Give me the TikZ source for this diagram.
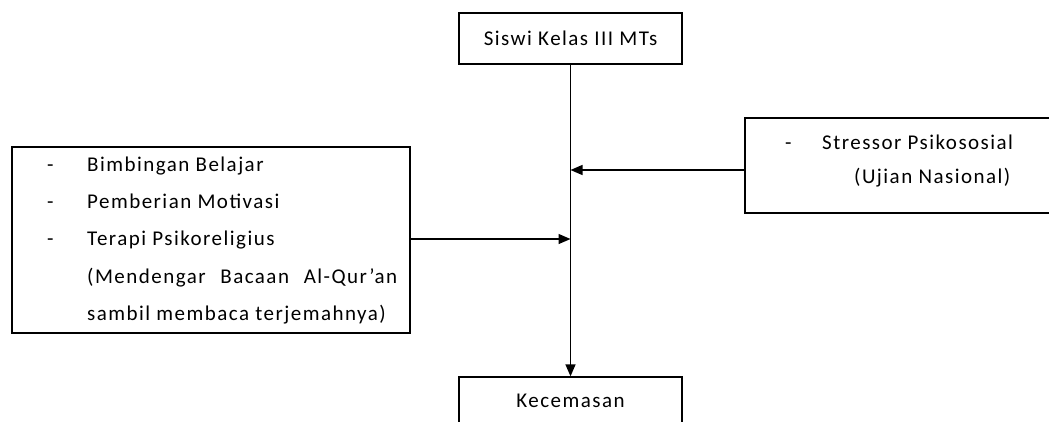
\documentclass[tikz,border=0pt]{standalone}
\usepackage{fontspec}
\setmainfont{Carlito}[LetterSpace=7]
\usetikzlibrary{arrows.meta}
\begin{document}
\begin{tikzpicture}[x=1pt,y=-1pt,
  box/.style={draw=black, line width=1.3pt, inner sep=0pt},
  txt/.style={anchor=base west, inner sep=0pt, font=\fontsize{21}{25}\selectfont},
  ctxt/.style={anchor=base, inner sep=0pt, font=\fontsize{21}{25}\selectfont},
  arr/.style={draw=black, line width=1.3pt, -{Triangle[length=12pt,width=10pt]}}]
\useasboundingbox (0,0) rectangle (1049,421);
% boxes
\node[box, minimum width=223pt, minimum height=51pt] (top) at (570.5,38.5) {};
\node[ctxt] (toptxt) at (570.5,45) {Siswi Kelas III MTs};
\node[box, minimum width=223pt, minimum height=51pt] (bot) at (570.5,402.5) {};
\node[ctxt] (bottxt) at (570.5,407) {Kecemasan};
\node[box, minimum width=398pt, minimum height=186pt] (lb) at (211,240) {};
\node[box, minimum width=330pt, minimum height=95pt] (rb) at (910,165.5) {};
% left box text
\node[txt] (d1) at (47,171) {-};
\node[txt] (l1) at (87,171) {Bimbingan Belajar};
\node[txt] (d2) at (47,208) {-};
\node[txt] (l2) at (87,208) {Pemberian Motivasi};
\node[txt] (d3) at (47,245) {-};
\node[txt] (l3) at (87,245) {Terapi Psikoreligius};
\node[txt] (l4) at (87,283) {\makebox[310pt][s]{(Mendengar Bacaan Al-Qur’an}};
\node[txt] (l5) at (87,320) {sambil membaca terjemahnya)};
% right box text
\node[txt] (d4) at (785,149) {-};
\node[txt] (r1) at (822,149) {Stressor Psikososial};
\node[txt] (r2) at (854,183) {(Ujian Nasional)};
% connectors
\coordinate (j1) at (570.5,170);
\coordinate (j2) at (570.5,239);
\draw[arr] (top.south) -- (bot.north);
\draw[arr] (rb.west |- j1) -- (j1);
\draw[arr] (lb.east |- j2) -- (j2);
\end{tikzpicture}
\end{document}
